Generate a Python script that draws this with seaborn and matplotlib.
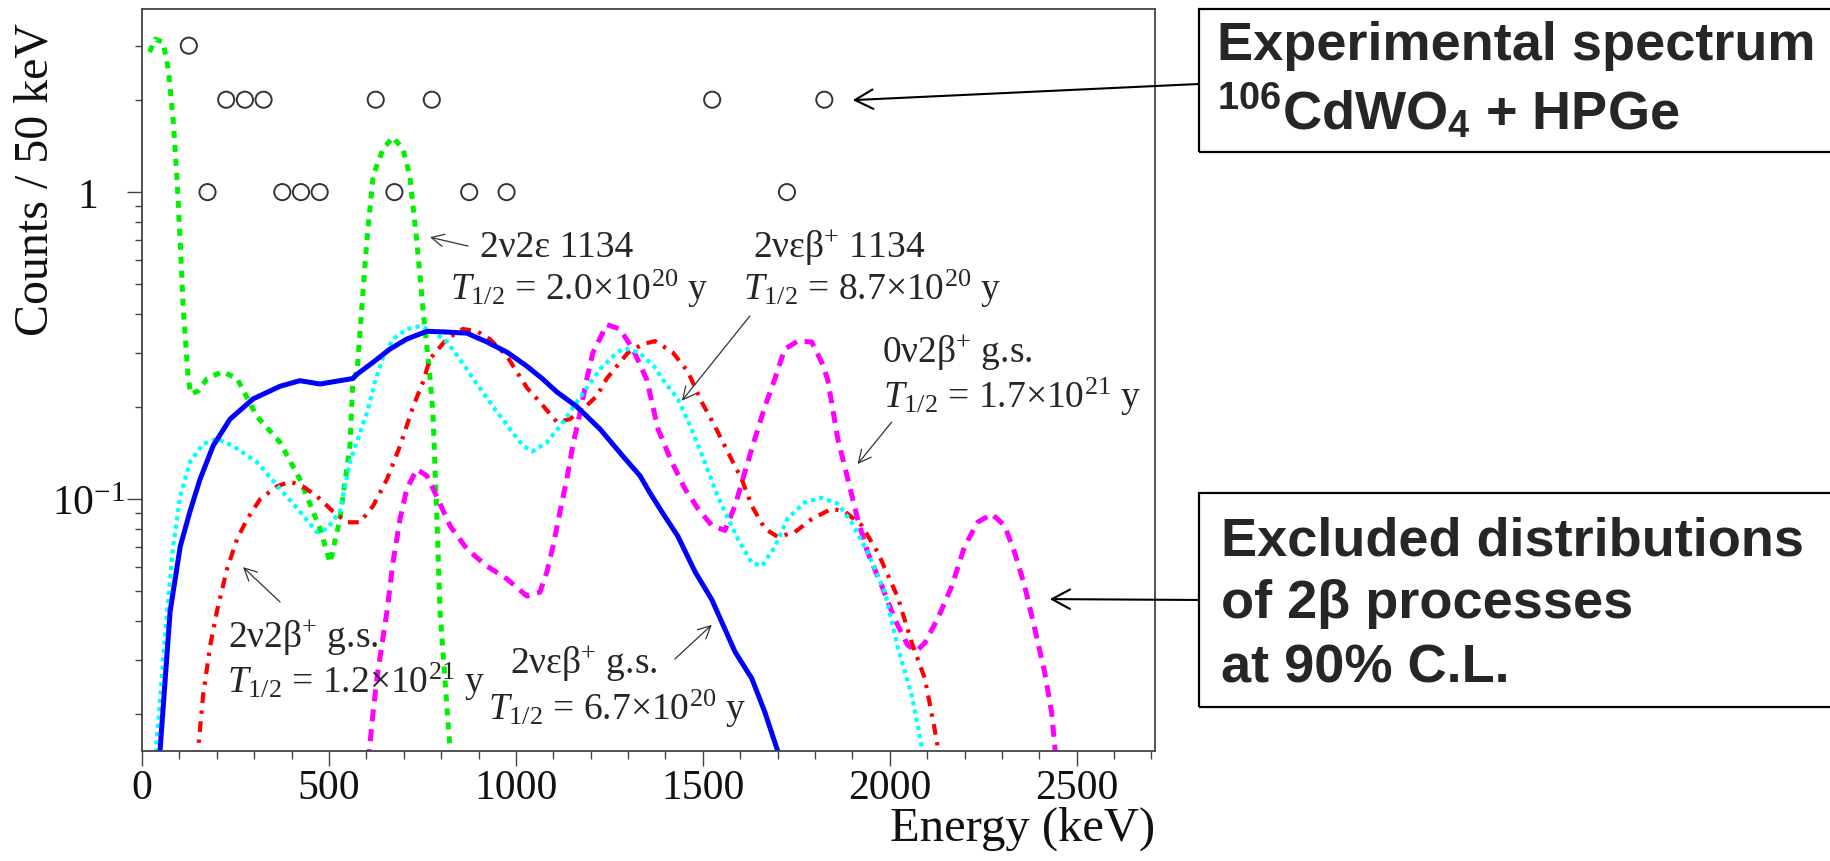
import matplotlib
matplotlib.use("Agg")
import matplotlib.pyplot as plt
from matplotlib.patches import Rectangle
from matplotlib.ticker import FixedLocator, FixedFormatter, MultipleLocator, NullFormatter
import seaborn as sns

# experimental spectrum (counts / 50 keV)
exp_energy = [125, 175, 225, 275, 325, 375, 425, 475, 625, 675, 775, 875, 975, 1525, 1725, 1825]
exp_counts = [3, 1, 2, 2, 2, 1, 1, 1, 2, 1, 2, 1, 1, 2, 1, 2]

# 2v2e 1134 (green)
ec2_e = [20, 35, 56, 70, 83, 93, 102, 110, 123, 130, 150, 174, 215, 254, 307, 369, 422, 476, 503,
         529, 556, 564, 575, 601, 618, 644, 671, 698, 716, 735, 751, 770, 778, 788, 797, 810, 823, 828]
ec2_c = [2.86, 3.15, 3.08, 2.52, 1.73, 1.13, 0.69, 0.42, 0.25, 0.22, 0.225, 0.247, 0.26, 0.247, 0.186,
         0.153, 0.116, 0.080, 0.062, 0.086, 0.149, 0.246, 0.26, 0.69, 1.13, 1.38, 1.51, 1.38, 1.13, 0.69,
         0.42, 0.25, 0.19, 0.091, 0.043, 0.026, 0.0157, 0.014]

# 2v eb+ g.s. (blue)
ecb_gs_e = [46, 75, 102, 128, 155, 190, 235, 297, 369, 422, 476, 529, 564, 575, 618, 663, 708, 762,
            815, 869, 922, 976, 1029, 1070, 1110, 1163, 1225, 1286, 1332, 1358, 1390, 1433, 1479,
            1524, 1559, 1586, 1631, 1666, 1701, 1710]
ecb_gs_c = [0.014, 0.043, 0.070, 0.091, 0.116, 0.149, 0.182, 0.212, 0.233, 0.243, 0.237, 0.243, 0.247,
            0.255, 0.279, 0.308, 0.332, 0.352, 0.350, 0.347, 0.325, 0.301, 0.271, 0.247, 0.223, 0.200,
            0.169, 0.138, 0.119, 0.105, 0.091, 0.0757, 0.058, 0.047, 0.0377, 0.0318, 0.026, 0.0202,
            0.0150, 0.0140]

# 2v eb+ 1134 (cyan)
ecb_1134_e = [35, 67, 83, 102, 128, 163, 200, 243, 307, 369, 422, 468, 495, 529, 556, 601, 625, 645,
              671, 708, 743, 778, 815, 850, 885, 939, 984, 1019, 1045, 1083, 1126, 1163, 1225, 1270,
              1291, 1330, 1370, 1398, 1433, 1470, 1505, 1540, 1567, 1594, 1631, 1658, 1693, 1727,
              1773, 1818, 1861, 1898, 1941, 1987, 2021, 2059, 2088, 2095]
ecb_1134_c = [0.014, 0.043, 0.070, 0.102, 0.132, 0.151, 0.157, 0.149, 0.132, 0.108, 0.091, 0.078,
              0.080, 0.091, 0.132, 0.190, 0.245, 0.290, 0.332, 0.358, 0.366, 0.352, 0.325, 0.286,
              0.247, 0.200, 0.169, 0.149, 0.143, 0.153, 0.178, 0.207, 0.265, 0.300, 0.310, 0.300,
              0.270, 0.240, 0.212, 0.169, 0.132, 0.102, 0.0866, 0.074, 0.062, 0.0605, 0.070, 0.0866,
              0.0975, 0.101, 0.0966, 0.084, 0.067, 0.0497, 0.033, 0.0229, 0.015, 0.014]

# 2v2b+ g.s. (red)
bb2_e = [147, 163, 182, 200, 227, 254, 281, 316, 361, 396, 430, 468, 511, 548, 583, 618, 655, 690,
         725, 751, 770, 815, 858, 896, 930, 976, 1011, 1030, 1064, 1110, 1144, 1179, 1217, 1243, 1300,
         1340, 1372, 1420, 1460, 1497, 1532, 1567, 1604, 1631, 1666, 1701, 1746, 1791, 1845, 1880,
         1925, 1968, 2021, 2059, 2094, 2120, 2135]
bb2_c = [0.014, 0.0228, 0.0332, 0.043, 0.059, 0.074, 0.086, 0.100, 0.110, 0.114, 0.110, 0.102, 0.091,
         0.084, 0.084, 0.095, 0.116, 0.149, 0.200, 0.240, 0.286, 0.332, 0.358, 0.352, 0.332, 0.292,
         0.250, 0.230, 0.207, 0.178, 0.182, 0.196, 0.217, 0.247, 0.300, 0.320, 0.327, 0.300, 0.260,
         0.207, 0.173, 0.142, 0.116, 0.095, 0.080, 0.0752, 0.078, 0.086, 0.093, 0.091, 0.082, 0.067,
         0.048, 0.034, 0.026, 0.0178, 0.014]

# 0v2b+ g.s. (magenta)
bb0_e = [605, 618, 628, 655, 671, 690, 708, 735, 762, 788, 824, 869, 922, 976, 1029, 1064, 1083, 1099,
         1118, 1136, 1152, 1171, 1190, 1206, 1243, 1278, 1313, 1350, 1380, 1417, 1452, 1487, 1524,
         1559, 1586, 1612, 1639, 1666, 1693, 1719, 1754, 1791, 1818, 1834, 1861, 1888, 1914, 1941,
         1979, 2013, 2048, 2072, 2094, 2128, 2166, 2200, 2235, 2273, 2307, 2334, 2361, 2388, 2414,
         2433, 2445]
bb0_c = [0.014, 0.0202, 0.026, 0.043, 0.062, 0.086, 0.108, 0.125, 0.119, 0.102, 0.0817, 0.0687,
         0.0605, 0.0549, 0.0483, 0.0497, 0.058, 0.070, 0.091, 0.116, 0.149, 0.190, 0.247, 0.300, 0.370,
         0.358, 0.308, 0.245, 0.169, 0.132, 0.108, 0.093, 0.082, 0.079, 0.095, 0.122, 0.157, 0.200,
         0.247, 0.308, 0.327, 0.325, 0.279, 0.245, 0.157, 0.116, 0.086, 0.067, 0.052, 0.0407, 0.0334,
         0.032, 0.034, 0.0407, 0.052, 0.070, 0.084, 0.0894, 0.082, 0.067, 0.052, 0.0377, 0.0274,
         0.0202, 0.014]

sns.set_style("ticks")
plt.rcParams['font.family'] = ['Liberation Serif', 'DejaVu Serif']
plt.rcParams['mathtext.fontset'] = 'custom'
plt.rcParams['mathtext.rm'] = 'Liberation Serif'
plt.rcParams['mathtext.it'] = 'Liberation Serif:italic'
plt.rcParams['mathtext.bf'] = 'Liberation Sans:bold'
plt.rcParams['mathtext.fallback'] = 'stix'

fig = plt.figure(figsize=(18.31, 8.62), dpi=100)
ax = fig.add_axes([0.0776, 0.1276, 0.5533, 0.8608])

sns.lineplot(x=ec2_e, y=ec2_c, ax=ax, estimator=None, sort=False, color='#00f000',
             lw=3.6, linestyle=(0, (1.4, 1.4)))
sns.lineplot(x=bb0_e, y=bb0_c, ax=ax, estimator=None, sort=False, color='#ff00ff',
             lw=3.6, linestyle=(0, (2.4, 1.6)))
sns.lineplot(x=bb2_e, y=bb2_c, ax=ax, estimator=None, sort=False, color='#ff0000',
             lw=3.0, linestyle=(0, (2.6, 1.8, 0.8, 1.8)))
sns.lineplot(x=ecb_1134_e, y=ecb_1134_c, ax=ax, estimator=None, sort=False, color='#00ffff',
             lw=3.0, linestyle=(0, (1.0, 1.0)))
sns.lineplot(x=ecb_gs_e, y=ecb_gs_c, ax=ax, estimator=None, sort=False, color='#0000ff', lw=3.6)
sns.scatterplot(x=exp_energy, y=exp_counts, ax=ax, marker='o', s=135, facecolor='none',
                edgecolor='#333333', linewidth=1.4, zorder=5)

ax.set_yscale('log')
ax.set_xlim(0, 2710)
ax.set_ylim(0.0151, 3.95)
ax.xaxis.set_major_locator(MultipleLocator(500))
ax.xaxis.set_minor_locator(MultipleLocator(100))
ax.yaxis.set_major_locator(FixedLocator([0.1, 1]))
ax.yaxis.set_major_formatter(FixedFormatter([r'$10^{-1}$', '1']))
ax.yaxis.set_minor_locator(FixedLocator([0.02, 0.03, 0.04, 0.05, 0.06, 0.07, 0.08, 0.09,
                                         0.2, 0.3, 0.4, 0.5, 0.6, 0.7, 0.8, 0.9, 2, 3]))
ax.yaxis.set_minor_formatter(NullFormatter())

ax.tick_params(axis='both', which='both', direction='out', color='#444444', width=1.0,
               top=False, right=False, labelcolor='#111111')
ax.tick_params(axis='y', which='major', length=10.8, pad=28, labelsize=30)
ax.tick_params(axis='y', which='minor', length=5)
ax.tick_params(axis='x', which='major', length=10.8, pad=2, labelsize=30)
ax.tick_params(axis='x', which='minor', length=5.8)
for lab in ax.get_yticklabels():
    lab.set_ha('center')
for s in ax.spines.values():
    s.set_color('#444444')
    s.set_linewidth(1.3)

ax.set_xlabel('Energy (keV)', fontsize=35, loc='right', color='#111111')
ax.set_ylabel('Counts / 50 keV', fontsize=34.5, loc='top', color='#111111')
ax.xaxis.set_label_coords(1.0, -0.074)
ax.yaxis.set_label_coords(-0.083, 0.982)

# annotations of the curves
tfs = 27
small_arrow = dict(arrowstyle='->,head_length=0.6,head_width=0.3', lw=0.9, color='#333333',
                   mutation_scale=15, shrinkA=0, shrinkB=0)
ax.text(904, 0.619, '2ν2ε 1134', fontsize=tfs, ha='left', va='baseline')
ax.text(824, 0.448, r'$T_{1/2}$ = 2.0×10$^{20}$ y', fontsize=tfs, ha='left', va='baseline')
ax.annotate('', xy=(770, 0.713), xytext=(872, 0.667), arrowprops=small_arrow)

ax.text(1634, 0.619, r'2νεβ$^{+}$ 1134', fontsize=tfs, ha='left', va='baseline')
ax.text(1607, 0.448, r'$T_{1/2}$ = 8.7×10$^{20}$ y', fontsize=tfs, ha='left', va='baseline')
ax.annotate('', xy=(1444, 0.209), xytext=(1626, 0.395), arrowprops=small_arrow)

ax.text(1979, 0.281, r'0ν2β$^{+}$ g.s.', fontsize=tfs, ha='left', va='baseline')
ax.text(1981, 0.1995, r'$T_{1/2}$ = 1.7×10$^{21}$ y', fontsize=tfs, ha='left', va='baseline')
ax.annotate('', xy=(1914, 0.130), xytext=(2005, 0.178), arrowprops=small_arrow)

ax.text(230, 0.0332, r'2ν2β$^{+}$ g.s.', fontsize=tfs, ha='left', va='baseline')
ax.text(227, 0.0235, r'$T_{1/2}$ = 1.2×10$^{21}$ y', fontsize=tfs, ha='left', va='baseline')
ax.annotate('', xy=(270, 0.060), xytext=(369, 0.0462), arrowprops=small_arrow)

ax.text(984, 0.0273, r'2νεβ$^{+}$ g.s.', fontsize=tfs, ha='left', va='baseline')
ax.text(925, 0.0192, r'$T_{1/2}$ = 6.7×10$^{20}$ y', fontsize=tfs, ha='left', va='baseline')
ax.annotate('', xy=(1524, 0.0389), xytext=(1425, 0.0301), arrowprops=small_arrow)

# boxes on the right
big_arrow = dict(arrowstyle='->,head_length=0.65,head_width=0.35', lw=1.5, color='black',
                 mutation_scale=20, shrinkA=0, shrinkB=0)
fig.add_artist(Rectangle((0.6548, 0.8225), 0.4, 0.1659, transform=fig.transFigure,
                         fill=False, lw=1.6, ec='black'))
fig.add_artist(Rectangle((0.6548, 0.1787), 0.4, 0.2483, transform=fig.transFigure,
                         fill=False, lw=1.6, ec='black'))
bfont = dict(fontsize=39, fontweight='bold', family=['Liberation Sans', 'DejaVu Sans'],
             ha='left', va='baseline')
fig.text(0.6647, 0.9304, 'Experimental spectrum', **bfont)
fig.text(0.6647, 0.8492, r'$\mathbf{^{106}}$CdWO$_\mathbf{4}$ + HPGe', **bfont)
fig.text(0.6669, 0.3561, 'Excluded distributions', **bfont)
fig.text(0.6669, 0.2831, 'of 2β processes', **bfont)
fig.text(0.6669, 0.2077, 'at 90% C.L.', **bfont)

ax.annotate('', xy=(1901, 1.994), xycoords='data', xytext=(0.6548, 0.9014),
            textcoords='figure fraction', arrowprops=big_arrow, annotation_clip=False)
ax.annotate('', xy=(2428, 0.0472), xycoords='data', xytext=(0.6548, 0.3028),
            textcoords='figure fraction', arrowprops=big_arrow, annotation_clip=False)

fig.savefig('out.png', dpi=100)
